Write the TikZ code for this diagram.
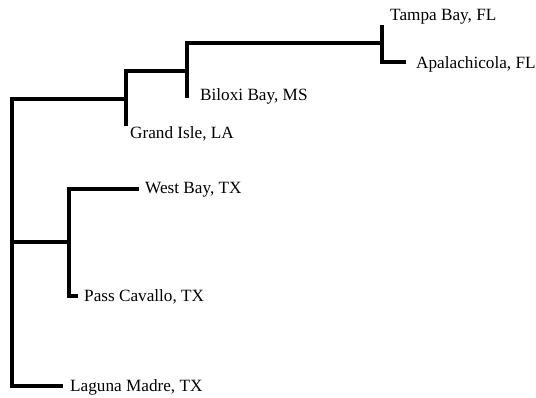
\documentclass[tikz,border=0pt]{standalone}
\usepackage{fontspec}
\setmainfont{Liberation Serif}
\begin{document}
\begin{tikzpicture}[x=1pt,y=-1pt,
  branch/.style={line width=3.2pt, line join=miter, line cap=butt, black},
  lbl/.style={inner sep=0pt, anchor=base west, font=\fontsize{17.2}{20}\selectfont}]
\useasboundingbox (0,0) rectangle (536,397);
% junctions
\coordinate (J1) at (126,99);
\coordinate (J2) at (187,71);
\coordinate (J3) at (382,43);
\coordinate (J4) at (69,242);
\coordinate (Rb) at (12,386);
\coordinate (Rm) at (12,242);
% tips
\coordinate (tGI) at (126,126);
\coordinate (tBI) at (187,98);
\coordinate (tTB) at (382,25);
\coordinate (tAP) at (406,62);
\coordinate (tWB) at (139,189);
\coordinate (tPC) at (78,296);
\coordinate (tLM) at (63,386);
% labels
\node[lbl] (TB) at (390,20) {Tampa Bay, FL};
\node[lbl] (AP) at (416,68) {Apalachicola, FL};
\node[lbl] (BI) at (200,100) {Biloxi Bay, MS};
\node[lbl] (GI) at (130,138) {Grand Isle, LA};
\node[lbl] (WB) at (145,193) {West Bay, TX};
\node[lbl] (PC) at (84,301) {Pass Cavallo, TX};
\node[lbl] (LM) at (70,391) {Laguna Madre, TX};
% branches
\draw[branch] (J1) -| (Rb) -- (tLM);
\draw[branch] (Rm) -- (J4);
\draw[branch] (tGI) |- (J2);
\draw[branch] (tBI) |- (J3);
\draw[branch] (tTB) |- (tAP);
\draw[branch] (tWB) -| (J4) |- (tPC);
\end{tikzpicture}
\end{document}
